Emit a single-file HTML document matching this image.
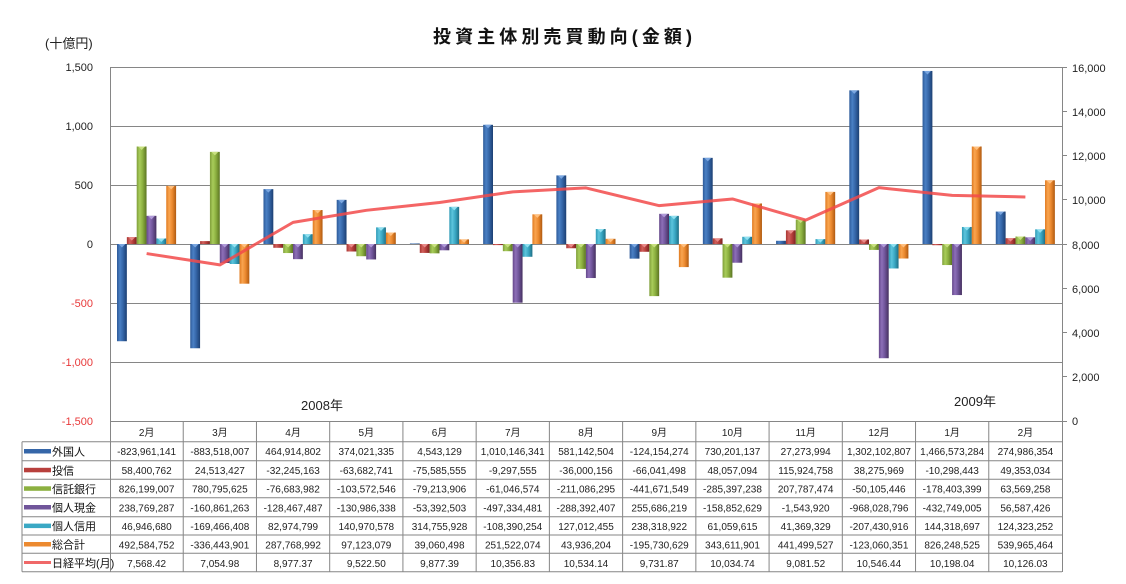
<!DOCTYPE html>
<html><head><meta charset="utf-8"><style>
html,body{margin:0;padding:0;background:#fff;}
svg{display:block;font-family:"Liberation Sans","Noto Sans CJK JP",sans-serif;}
</style></head><body>
<svg width="1126" height="584" viewBox="0 0 1126 584" xmlns="http://www.w3.org/2000/svg">
<defs>
<linearGradient id="gB" x1="0" x2="1" y1="0" y2="0"><stop offset="0" stop-color="#2d5a98"/><stop offset="0.3" stop-color="#4a80c4"/><stop offset="0.6" stop-color="#3566a8"/><stop offset="1" stop-color="#1c3f72"/></linearGradient>
<linearGradient id="gR" x1="0" x2="1" y1="0" y2="0"><stop offset="0" stop-color="#a83532"/><stop offset="0.3" stop-color="#d0605c"/><stop offset="0.6" stop-color="#b8403d"/><stop offset="1" stop-color="#7a2220"/></linearGradient>
<linearGradient id="gG" x1="0" x2="1" y1="0" y2="0"><stop offset="0" stop-color="#7f9e3a"/><stop offset="0.3" stop-color="#a8cc5a"/><stop offset="0.6" stop-color="#8cb040"/><stop offset="1" stop-color="#5b7422"/></linearGradient>
<linearGradient id="gP" x1="0" x2="1" y1="0" y2="0"><stop offset="0" stop-color="#65488a"/><stop offset="0.3" stop-color="#8d6fb8"/><stop offset="0.6" stop-color="#70559a"/><stop offset="1" stop-color="#45305f"/></linearGradient>
<linearGradient id="gT" x1="0" x2="1" y1="0" y2="0"><stop offset="0" stop-color="#2f9ab6"/><stop offset="0.3" stop-color="#5cc4dc"/><stop offset="0.6" stop-color="#3aa8c4"/><stop offset="1" stop-color="#1f6f85"/></linearGradient>
<linearGradient id="gO" x1="0" x2="1" y1="0" y2="0"><stop offset="0" stop-color="#e07a20"/><stop offset="0.3" stop-color="#f9a550"/><stop offset="0.6" stop-color="#ec8a30"/><stop offset="1" stop-color="#b05a10"/></linearGradient>
<polygon id="cB" points="1.5,0 8.35,0 4.9,3.5" fill="#7aa6e0"/>
<polygon id="cR" points="1.5,0 8.35,0 4.9,3.5" fill="#e88a88"/>
<polygon id="cG" points="1.5,0 8.35,0 4.9,3.5" fill="#c8e080"/>
<polygon id="cP" points="1.5,0 8.35,0 4.9,3.5" fill="#b09ad8"/>
<polygon id="cT" points="1.5,0 8.35,0 4.9,3.5" fill="#90e0f0"/>
<polygon id="cO" points="1.5,0 8.35,0 4.9,3.5" fill="#ffc080"/>
</defs>

<!-- title -->
<text x="433" y="43" font-size="18" font-weight="bold" fill="#111" textLength="259" lengthAdjust="spacing">投資主体別売買動向(金額)</text>
<text x="45" y="48" font-size="13" fill="#222">(十億円)</text>

<!-- gridlines -->
<g stroke="#868686" stroke-width="1" fill="none">
<line x1="110" y1="67.5" x2="1062" y2="67.5"/>
<line x1="110" y1="126.5" x2="1062" y2="126.5"/>
<line x1="110" y1="185.5" x2="1062" y2="185.5"/>
<line x1="110" y1="244.5" x2="1062" y2="244.5"/>
<line x1="110" y1="303.5" x2="1062" y2="303.5"/>
<line x1="110" y1="362.5" x2="1062" y2="362.5"/>
<line x1="110" y1="421.5" x2="1062" y2="421.5"/>
<line x1="110.5" y1="67" x2="110.5" y2="572"/>
<line x1="1062.5" y1="67" x2="1062.5" y2="572"/>
</g>

<!-- left axis -->
<g font-size="11" fill="#222" text-anchor="end">
<text x="93" y="71">1,500</text>
<text x="93" y="130">1,000</text>
<text x="93" y="189">500</text>
<text x="93" y="248">0</text>
<text x="93" y="307" fill="#e8393a">-500</text>
<text x="93" y="366" fill="#e8393a">-1,000</text>
<text x="93" y="425" fill="#e8393a">-1,500</text>
</g>

<!-- right axis -->
<g stroke="#868686" stroke-width="1">
<line x1="1062" y1="67.5" x2="1067" y2="67.5"/>
<line x1="1062" y1="111.5" x2="1067" y2="111.5"/>
<line x1="1062" y1="155.5" x2="1067" y2="155.5"/>
<line x1="1062" y1="199.5" x2="1067" y2="199.5"/>
<line x1="1062" y1="244.5" x2="1067" y2="244.5"/>
<line x1="1062" y1="288.5" x2="1067" y2="288.5"/>
<line x1="1062" y1="332.5" x2="1067" y2="332.5"/>
<line x1="1062" y1="376.5" x2="1067" y2="376.5"/>
<line x1="1062" y1="421.5" x2="1067" y2="421.5"/>
</g>
<g font-size="11" fill="#222">
<text x="1072" y="72">16,000</text>
<text x="1072" y="116">14,000</text>
<text x="1072" y="160">12,000</text>
<text x="1072" y="204">10,000</text>
<text x="1072" y="249">8,000</text>
<text x="1072" y="293">6,000</text>
<text x="1072" y="337">4,000</text>
<text x="1072" y="381">2,000</text>
<text x="1072" y="425">0</text>
</g>

<!-- bars: 外国人 -->
<g fill="url(#gB)">
<rect x="117" y="244" width="9.85" height="97.23"/>
<rect x="190.23" y="244" width="9.85" height="104.26"/>
<rect x="263.46" y="189.14" width="9.85" height="54.86"/>
<rect x="336.69" y="199.87" width="9.85" height="44.13"/>
<rect x="409.92" y="243.46" width="9.85" height="0.54"/>
<rect x="483.15" y="124.8" width="9.85" height="119.2"/>
<rect x="556.38" y="175.43" width="9.85" height="68.57"/>
<rect x="629.62" y="244" width="9.85" height="14.65"/>
<rect x="702.85" y="157.84" width="9.85" height="86.16"/>
<rect x="776.08" y="240.78" width="9.85" height="3.22"/>
<rect x="849.31" y="90.35" width="9.85" height="153.65"/>
<rect x="922.54" y="70.94" width="9.85" height="173.06"/>
<rect x="995.77" y="211.55" width="9.85" height="32.45"/>
</g>
<!-- 投信 -->
<g fill="url(#gR)">
<rect x="126.85" y="237.11" width="9.85" height="6.89"/>
<rect x="200.08" y="241.11" width="9.85" height="2.89"/>
<rect x="273.31" y="244" width="9.85" height="3.81"/>
<rect x="346.54" y="244" width="9.85" height="7.51"/>
<rect x="419.77" y="244" width="9.85" height="8.92"/>
<rect x="493" y="244" width="9.85" height="1.1"/>
<rect x="566.23" y="244" width="9.85" height="4.25"/>
<rect x="639.47" y="244" width="9.85" height="7.79"/>
<rect x="712.7" y="238.33" width="9.85" height="5.67"/>
<rect x="785.93" y="230.32" width="9.85" height="13.68"/>
<rect x="859.16" y="239.48" width="9.85" height="4.52"/>
<rect x="932.39" y="244" width="9.85" height="1.22"/>
<rect x="1005.62" y="238.18" width="9.85" height="5.82"/>
</g>
<!-- 信託銀行 -->
<g fill="url(#gG)">
<rect x="136.7" y="146.51" width="9.85" height="97.49"/>
<rect x="209.93" y="151.87" width="9.85" height="92.13"/>
<rect x="283.16" y="244" width="9.85" height="9.05"/>
<rect x="356.39" y="244" width="9.85" height="12.22"/>
<rect x="429.62" y="244" width="9.85" height="9.35"/>
<rect x="502.85" y="244" width="9.85" height="7.2"/>
<rect x="576.08" y="244" width="9.85" height="24.91"/>
<rect x="649.32" y="244" width="9.85" height="52.12"/>
<rect x="722.55" y="244" width="9.85" height="33.68"/>
<rect x="795.78" y="219.48" width="9.85" height="24.52"/>
<rect x="869.01" y="244" width="9.85" height="5.91"/>
<rect x="942.24" y="244" width="9.85" height="21.05"/>
<rect x="1015.47" y="236.5" width="9.85" height="7.5"/>
</g>
<!-- 個人現金 -->
<g fill="url(#gP)">
<rect x="146.55" y="215.83" width="9.85" height="28.17"/>
<rect x="219.78" y="244" width="9.85" height="18.98"/>
<rect x="293.01" y="244" width="9.85" height="15.16"/>
<rect x="366.24" y="244" width="9.85" height="15.46"/>
<rect x="439.47" y="244" width="9.85" height="6.3"/>
<rect x="512.7" y="244" width="9.85" height="58.69"/>
<rect x="585.93" y="244" width="9.85" height="34.03"/>
<rect x="659.17" y="213.83" width="9.85" height="30.17"/>
<rect x="732.4" y="244" width="9.85" height="18.74"/>
<rect x="805.63" y="244" width="9.85" height="0.5"/>
<rect x="878.86" y="244" width="9.85" height="114.23"/>
<rect x="952.09" y="244" width="9.85" height="51.06"/>
<rect x="1025.32" y="237.32" width="9.85" height="6.68"/>
</g>
<!-- 個人信用 -->
<g fill="url(#gT)">
<rect x="156.4" y="238.46" width="9.85" height="5.54"/>
<rect x="229.63" y="244" width="9.85" height="20"/>
<rect x="302.86" y="234.21" width="9.85" height="9.79"/>
<rect x="376.09" y="227.37" width="9.85" height="16.63"/>
<rect x="449.32" y="206.86" width="9.85" height="37.14"/>
<rect x="522.55" y="244" width="9.85" height="12.79"/>
<rect x="595.78" y="229.01" width="9.85" height="14.99"/>
<rect x="669.02" y="215.88" width="9.85" height="28.12"/>
<rect x="742.25" y="236.79" width="9.85" height="7.21"/>
<rect x="815.48" y="239.12" width="9.85" height="4.88"/>
<rect x="888.71" y="244" width="9.85" height="24.48"/>
<rect x="961.94" y="226.97" width="9.85" height="17.03"/>
<rect x="1035.17" y="229.33" width="9.85" height="14.67"/>
</g>
<!-- 総合計 -->
<g fill="url(#gO)">
<rect x="166.25" y="185.88" width="9.85" height="58.12"/>
<rect x="239.48" y="244" width="9.85" height="39.7"/>
<rect x="312.71" y="210.04" width="9.85" height="33.96"/>
<rect x="385.94" y="232.54" width="9.85" height="11.46"/>
<rect x="459.17" y="239.39" width="9.85" height="4.61"/>
<rect x="532.4" y="214.32" width="9.85" height="29.68"/>
<rect x="605.63" y="238.82" width="9.85" height="5.18"/>
<rect x="678.87" y="244" width="9.85" height="23.1"/>
<rect x="752.1" y="203.45" width="9.85" height="40.55"/>
<rect x="825.33" y="191.9" width="9.85" height="52.1"/>
<rect x="898.56" y="244" width="9.85" height="14.52"/>
<rect x="971.79" y="146.5" width="9.85" height="97.5"/>
<rect x="1045.02" y="180.28" width="9.85" height="63.72"/>
</g>

<!-- caps -->
<use href="#cB" x="117" y="244"/><use href="#cB" x="190.23" y="244"/><use href="#cB" x="263.46" y="189.14"/><use href="#cB" x="336.69" y="199.87"/><use href="#cB" x="483.15" y="124.8"/><use href="#cB" x="556.38" y="175.43"/><use href="#cB" x="629.62" y="244"/><use href="#cB" x="702.85" y="157.84"/><use href="#cB" x="849.31" y="90.35"/><use href="#cB" x="922.54" y="70.94"/><use href="#cB" x="995.77" y="211.55"/>
<use href="#cR" x="126.85" y="237.11"/><use href="#cR" x="346.54" y="244"/><use href="#cR" x="419.77" y="244"/><use href="#cR" x="566.23" y="244"/><use href="#cR" x="639.47" y="244"/><use href="#cR" x="712.7" y="238.33"/><use href="#cR" x="785.93" y="230.32"/><use href="#cR" x="859.16" y="239.48"/><use href="#cR" x="1005.62" y="238.18"/>
<use href="#cG" x="136.7" y="146.51"/><use href="#cG" x="209.93" y="151.87"/><use href="#cG" x="283.16" y="244"/><use href="#cG" x="356.39" y="244"/><use href="#cG" x="429.62" y="244"/><use href="#cG" x="502.85" y="244"/><use href="#cG" x="576.08" y="244"/><use href="#cG" x="649.32" y="244"/><use href="#cG" x="722.55" y="244"/><use href="#cG" x="795.78" y="219.48"/><use href="#cG" x="869.01" y="244"/><use href="#cG" x="942.24" y="244"/><use href="#cG" x="1015.47" y="236.5"/>
<use href="#cP" x="146.55" y="215.83"/><use href="#cP" x="219.78" y="244"/><use href="#cP" x="293.01" y="244"/><use href="#cP" x="366.24" y="244"/><use href="#cP" x="439.47" y="244"/><use href="#cP" x="512.7" y="244"/><use href="#cP" x="585.93" y="244"/><use href="#cP" x="659.17" y="213.83"/><use href="#cP" x="732.4" y="244"/><use href="#cP" x="878.86" y="244"/><use href="#cP" x="952.09" y="244"/><use href="#cP" x="1025.32" y="237.32"/>
<use href="#cT" x="156.4" y="238.46"/><use href="#cT" x="229.63" y="244"/><use href="#cT" x="302.86" y="234.21"/><use href="#cT" x="376.09" y="227.37"/><use href="#cT" x="449.32" y="206.86"/><use href="#cT" x="522.55" y="244"/><use href="#cT" x="595.78" y="229.01"/><use href="#cT" x="669.02" y="215.88"/><use href="#cT" x="742.25" y="236.79"/><use href="#cT" x="815.48" y="239.12"/><use href="#cT" x="888.71" y="244"/><use href="#cT" x="961.94" y="226.97"/><use href="#cT" x="1035.17" y="229.33"/>
<use href="#cO" x="166.25" y="185.88"/><use href="#cO" x="239.48" y="244"/><use href="#cO" x="312.71" y="210.04"/><use href="#cO" x="385.94" y="232.54"/><use href="#cO" x="459.17" y="239.39"/><use href="#cO" x="532.4" y="214.32"/><use href="#cO" x="605.63" y="238.82"/><use href="#cO" x="678.87" y="244"/><use href="#cO" x="752.1" y="203.45"/><use href="#cO" x="825.33" y="191.9"/><use href="#cO" x="898.56" y="244"/><use href="#cO" x="971.79" y="146.5"/><use href="#cO" x="1045.02" y="180.28"/>

<!-- Nikkei line -->
<polyline fill="none" stroke="#f24a4a" stroke-opacity="0.85" stroke-width="3" stroke-linejoin="round" points="146.62,253.55 219.85,264.91 293.08,222.38 366.31,210.31 439.54,202.46 512.77,191.86 586,187.93 659.24,205.68 732.47,198.98 805.7,220.07 878.93,187.66 952.16,195.37 1025.39,196.96"/>

<!-- year labels -->
<text x="322" y="410" font-size="13" fill="#222" text-anchor="middle">2008年</text>
<text x="975" y="406" font-size="13" fill="#222" text-anchor="middle">2009年</text>

<!-- table lines -->
<g stroke="#868686" stroke-width="1">
<line x1="22" y1="441.7" x2="1062" y2="441.7"/>
<line x1="22" y1="460.7" x2="1062" y2="460.7"/>
<line x1="22" y1="479.3" x2="1062" y2="479.3"/>
<line x1="22" y1="497.7" x2="1062" y2="497.7"/>
<line x1="22" y1="516.7" x2="1062" y2="516.7"/>
<line x1="22" y1="535" x2="1062" y2="535"/>
<line x1="22" y1="553.3" x2="1062" y2="553.3"/>
<line x1="22" y1="571.7" x2="1062" y2="571.7"/>
<line x1="22" y1="441.7" x2="22" y2="571.7"/>
<line x1="183.23" y1="422" x2="183.23" y2="571.7"/>
<line x1="256.46" y1="422" x2="256.46" y2="571.7"/>
<line x1="329.69" y1="422" x2="329.69" y2="571.7"/>
<line x1="402.92" y1="422" x2="402.92" y2="571.7"/>
<line x1="476.15" y1="422" x2="476.15" y2="571.7"/>
<line x1="549.38" y1="422" x2="549.38" y2="571.7"/>
<line x1="622.62" y1="422" x2="622.62" y2="571.7"/>
<line x1="695.85" y1="422" x2="695.85" y2="571.7"/>
<line x1="769.08" y1="422" x2="769.08" y2="571.7"/>
<line x1="842.31" y1="422" x2="842.31" y2="571.7"/>
<line x1="915.54" y1="422" x2="915.54" y2="571.7"/>
<line x1="988.77" y1="422" x2="988.77" y2="571.7"/>
</g>

<!-- legend keys -->
<rect x="24" y="449" width="27" height="4.5" fill="#3566a8"/>
<rect x="24" y="467.8" width="27" height="4.5" fill="#b8403d"/>
<rect x="24" y="486.3" width="27" height="4.5" fill="#8cb040"/>
<rect x="24" y="505" width="27" height="4.5" fill="#70559a"/>
<rect x="24" y="523.6" width="27" height="4.5" fill="#3aa8c4"/>
<rect x="24" y="542" width="27" height="4.5" fill="#ec8a30"/>
<rect x="24" y="561" width="27" height="3" fill="#f06868"/>
<g font-size="11" fill="#111">
<text x="52" y="455.5">外国人</text>
<text x="52" y="474.3">投信</text>
<text x="52" y="492.8">信託銀行</text>
<text x="52" y="511.5">個人現金</text>
<text x="52" y="530.1">個人信用</text>
<text x="52" y="548.5">総合計</text>
<text x="52" y="566.8">日経平均(月)</text>
</g>

<!-- table text -->
<g font-size="10" fill="#222" text-anchor="middle">
<text x="146.62" y="436">2月</text><text x="219.85" y="436">3月</text><text x="293.08" y="436">4月</text><text x="366.31" y="436">5月</text><text x="439.54" y="436">6月</text><text x="512.77" y="436">7月</text><text x="586" y="436">8月</text><text x="659.24" y="436">9月</text><text x="732.47" y="436">10月</text><text x="805.7" y="436">11月</text><text x="878.93" y="436">12月</text><text x="952.16" y="436">1月</text><text x="1025.39" y="436">2月</text>

<text x="146.62" y="455.2">-823,961,141</text><text x="219.85" y="455.2">-883,518,007</text><text x="293.08" y="455.2">464,914,802</text><text x="366.31" y="455.2">374,021,335</text><text x="439.54" y="455.2">4,543,129</text><text x="512.77" y="455.2">1,010,146,341</text><text x="586" y="455.2">581,142,504</text><text x="659.24" y="455.2">-124,154,274</text><text x="732.47" y="455.2">730,201,137</text><text x="805.7" y="455.2">27,273,994</text><text x="878.93" y="455.2">1,302,102,807</text><text x="952.16" y="455.2">1,466,573,284</text><text x="1025.39" y="455.2">274,986,354</text>

<text x="146.62" y="474">58,400,762</text><text x="219.85" y="474">24,513,427</text><text x="293.08" y="474">-32,245,163</text><text x="366.31" y="474">-63,682,741</text><text x="439.54" y="474">-75,585,555</text><text x="512.77" y="474">-9,297,555</text><text x="586" y="474">-36,000,156</text><text x="659.24" y="474">-66,041,498</text><text x="732.47" y="474">48,057,094</text><text x="805.7" y="474">115,924,758</text><text x="878.93" y="474">38,275,969</text><text x="952.16" y="474">-10,298,443</text><text x="1025.39" y="474">49,353,034</text>

<text x="146.62" y="492.6">826,199,007</text><text x="219.85" y="492.6">780,795,625</text><text x="293.08" y="492.6">-76,683,982</text><text x="366.31" y="492.6">-103,572,546</text><text x="439.54" y="492.6">-79,213,906</text><text x="512.77" y="492.6">-61,046,574</text><text x="586" y="492.6">-211,086,295</text><text x="659.24" y="492.6">-441,671,549</text><text x="732.47" y="492.6">-285,397,238</text><text x="805.7" y="492.6">207,787,474</text><text x="878.93" y="492.6">-50,105,446</text><text x="952.16" y="492.6">-178,403,399</text><text x="1025.39" y="492.6">63,569,258</text>

<text x="146.62" y="511.3">238,769,287</text><text x="219.85" y="511.3">-160,861,263</text><text x="293.08" y="511.3">-128,467,487</text><text x="366.31" y="511.3">-130,986,338</text><text x="439.54" y="511.3">-53,392,503</text><text x="512.77" y="511.3">-497,334,481</text><text x="586" y="511.3">-288,392,407</text><text x="659.24" y="511.3">255,686,219</text><text x="732.47" y="511.3">-158,852,629</text><text x="805.7" y="511.3">-1,543,920</text><text x="878.93" y="511.3">-968,028,796</text><text x="952.16" y="511.3">-432,749,005</text><text x="1025.39" y="511.3">56,587,426</text>

<text x="146.62" y="530">46,946,680</text><text x="219.85" y="530">-169,466,408</text><text x="293.08" y="530">82,974,799</text><text x="366.31" y="530">140,970,578</text><text x="439.54" y="530">314,755,928</text><text x="512.77" y="530">-108,390,254</text><text x="586" y="530">127,012,455</text><text x="659.24" y="530">238,318,922</text><text x="732.47" y="530">61,059,615</text><text x="805.7" y="530">41,369,329</text><text x="878.93" y="530">-207,430,916</text><text x="952.16" y="530">144,318,697</text><text x="1025.39" y="530">124,323,252</text>

<text x="146.62" y="548.4">492,584,752</text><text x="219.85" y="548.4">-336,443,901</text><text x="293.08" y="548.4">287,768,992</text><text x="366.31" y="548.4">97,123,079</text><text x="439.54" y="548.4">39,060,498</text><text x="512.77" y="548.4">251,522,074</text><text x="586" y="548.4">43,936,204</text><text x="659.24" y="548.4">-195,730,629</text><text x="732.47" y="548.4">343,611,901</text><text x="805.7" y="548.4">441,499,527</text><text x="878.93" y="548.4">-123,060,351</text><text x="952.16" y="548.4">826,248,525</text><text x="1025.39" y="548.4">539,965,464</text>

<text x="146.62" y="566.8">7,568.42</text><text x="219.85" y="566.8">7,054.98</text><text x="293.08" y="566.8">8,977.37</text><text x="366.31" y="566.8">9,522.50</text><text x="439.54" y="566.8">9,877.39</text><text x="512.77" y="566.8">10,356.83</text><text x="586" y="566.8">10,534.14</text><text x="659.24" y="566.8">9,731.87</text><text x="732.47" y="566.8">10,034.74</text><text x="805.7" y="566.8">9,081.52</text><text x="878.93" y="566.8">10,546.44</text><text x="952.16" y="566.8">10,198.04</text><text x="1025.39" y="566.8">10,126.03</text>
</g>
</svg>
</body></html>
